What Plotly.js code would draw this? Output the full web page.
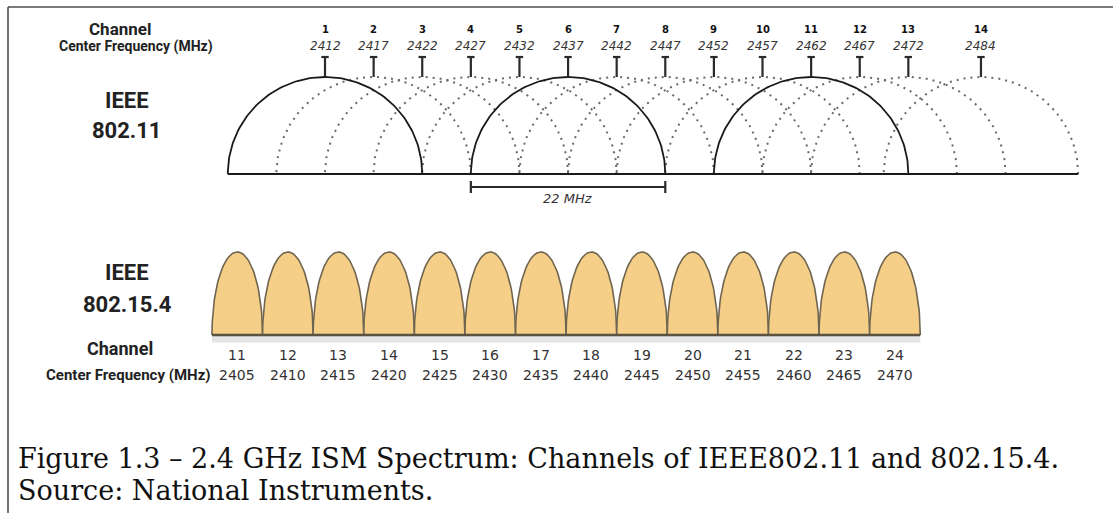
<!DOCTYPE html>
<html><head><meta charset="utf-8">
<script src="https://cdn.plot.ly/plotly-3.0.1.min.js"></script>
<style>html,body{margin:0;padding:0;background:#fff;} #chart{width:1113px;height:513px;}</style>
</head><body><div id="chart"></div>
<script>
// ---------------- data ----------------
const wifiChannels = [1, 2, 3, 4, 5, 6, 7, 8, 9, 10, 11, 12, 13, 14];
const wifiFreqs = [2412, 2417, 2422, 2427, 2432, 2437, 2442, 2447, 2452, 2457, 2462, 2467, 2472, 2484];
const wifiNonOverlapping = [1, 6, 11];
const wifiSpanFrom = 2427;
const wifiSpanTo = 2447;
const wifiSpanLabel = '22 MHz';
const zigbeeChannels = [11, 12, 13, 14, 15, 16, 17, 18, 19, 20, 21, 22, 23, 24];
const zigbeeFreqs = [2405, 2410, 2415, 2420, 2425, 2430, 2435, 2440, 2445, 2450, 2455, 2460, 2465, 2470];
const captionLines = ['Figure 1.3 – 2.4 GHz ISM Spectrum: Channels of IEEE802.11 and 802.15.4.', 'Source: National Instruments.'];

// ---------------- drawing helpers ----------------
const W = 1113, H = 513;
const px = v => v / W;            // page x -> paper
const py = v => 1 - v / H;        // page y -> paper
// channel 14 is drawn closer than scale (broken axis as in the original)
function wifiX(f) { return f <= 2472 ? f : 2472 + (f - 2472) * 0.6225; }
const ARC_HALF = 10;   // MHz, half span of drawn arc
const HUMP_HALF = 2.5; // MHz

function arc(cx, half, n) {
  const xs = [], ys = [];
  for (let i = 0; i <= n; i++) {
    const t = Math.PI * i / n;
    xs.push(cx + half * Math.cos(t));
    ys.push(Math.sin(t));
  }
  return [xs, ys];
}

const traces = [];
// dotted arcs first
wifiChannels.forEach((ch, i) => {
  if (wifiNonOverlapping.includes(ch)) return;
  const [xs, ys] = arc(wifiX(wifiFreqs[i]), ARC_HALF, 90);
  traces.push({type: 'scatter', mode: 'lines', x: xs, y: ys, xaxis: 'x', yaxis: 'y',
    line: {color: '#6a6a6a', width: 2, dash: '2px,5px'}, hoverinfo: 'skip'});
});
wifiChannels.forEach((ch, i) => {
  if (!wifiNonOverlapping.includes(ch)) return;
  const [xs, ys] = arc(wifiX(wifiFreqs[i]), ARC_HALF, 120);
  traces.push({type: 'scatter', mode: 'lines', x: xs, y: ys, xaxis: 'x', yaxis: 'y',
    line: {color: '#1a1a1a', width: 1.8}, hoverinfo: 'skip'});
});
// baseline
traces.push({type: 'scatter', mode: 'lines', xaxis: 'x', yaxis: 'y',
  x: [wifiX(wifiFreqs[0]) - ARC_HALF, wifiX(wifiFreqs[wifiFreqs.length - 1]) + ARC_HALF], y: [0, 0],
  line: {color: '#1a1a1a', width: 2}, hoverinfo: 'skip'});
// T markers
{
  const xs = [], ys = [];
  const top = 1 + 20 / 97;
  wifiFreqs.forEach(f => {
    const x = wifiX(f);
    xs.push(x, x, null, x - 0.38, x + 0.38, null);
    ys.push(1, top, null, top, top, null);
  });
  traces.push({type: 'scatter', mode: 'lines', x: xs, y: ys, xaxis: 'x', yaxis: 'y',
    line: {color: '#2a2a2a', width: 2.2}, hoverinfo: 'skip'});
}
// 22 MHz bar
{
  const yb = -13 / 97, cap = 6 / 97;
  traces.push({type: 'scatter', mode: 'lines', xaxis: 'x', yaxis: 'y',
    x: [wifiSpanFrom, wifiSpanTo, null, wifiSpanFrom, wifiSpanFrom, null, wifiSpanTo, wifiSpanTo],
    y: [yb, yb, null, yb - cap, yb + cap, null, yb - cap, yb + cap],
    line: {color: '#2a2a2a', width: 2.2}, hoverinfo: 'skip'});
}
// 802.15.4 shadow + humps + baseline
traces.push({type: 'scatter', mode: 'lines', xaxis: 'x2', yaxis: 'y2',
  x: [zigbeeFreqs[0] - HUMP_HALF, zigbeeFreqs[zigbeeFreqs.length - 1] + HUMP_HALF], y: [-0.05, -0.05],
  line: {color: 'rgba(0,0,0,0.10)', width: 7}, hoverinfo: 'skip'});
zigbeeFreqs.forEach(f => {
  const [xs, ys] = arc(f, HUMP_HALF, 60);
  traces.push({type: 'scatter', mode: 'lines', x: xs, y: ys, xaxis: 'x2', yaxis: 'y2',
    fill: 'toself', fillcolor: '#F5CF88', line: {color: '#6f6550', width: 1.6}, hoverinfo: 'skip'});
});
traces.push({type: 'scatter', mode: 'lines', xaxis: 'x2', yaxis: 'y2',
  x: [zigbeeFreqs[0] - HUMP_HALF, zigbeeFreqs[zigbeeFreqs.length - 1] + HUMP_HALF], y: [0, 0],
  line: {color: '#5c5242', width: 2.6}, hoverinfo: 'skip'});

// ---------------- annotations ----------------
const ann = [];
const labelFont = 'Liberation Sans Narrow, Roboto, Liberation Sans, sans-serif';
function txt(x, y, text, size, opts) {
  ann.push(Object.assign({xref: 'paper', yref: 'paper', x: px(x), y: py(y), text: text, showarrow: false,
    xanchor: 'center', yanchor: 'middle', font: {family: labelFont, size: size, color: '#222', weight: 700}}, opts || {}));
}
txt(120, 29, 'Channel', 17);
txt(136, 46, 'Center Frequency (MHz)', 14);
txt(127, 100, 'IEEE', 22);
txt(127, 131, '802.11', 22);
txt(127, 272, 'IEEE', 22);
txt(127, 304, '802.15.4', 22);
txt(120, 348, 'Channel', 18);
txt(128, 375, 'Center Frequency (MHz)', 15);

wifiChannels.forEach((ch, i) => {
  ann.push({xref: 'x', yref: 'paper', x: wifiX(wifiFreqs[i]), y: py(29), text: '<b>' + ch + '</b>', showarrow: false,
    xanchor: 'center', yanchor: 'middle', font: {family: 'DejaVu Sans', size: 10, color: '#111'}});
  ann.push({xref: 'x', yref: 'paper', x: wifiX(wifiFreqs[i]), y: py(46), text: '<i>' + wifiFreqs[i] + '</i>', showarrow: false,
    xanchor: 'center', yanchor: 'middle', font: {family: 'DejaVu Sans', size: 12, color: '#333'}});
});
ann.push({xref: 'x', yref: 'paper', x: (wifiSpanFrom + wifiSpanTo) / 2, y: py(199), text: '<i>' + wifiSpanLabel + '</i>', showarrow: false,
  xanchor: 'center', yanchor: 'middle', font: {family: 'DejaVu Sans', size: 13, color: '#333'}});
zigbeeChannels.forEach((ch, i) => {
  ann.push({xref: 'x2', yref: 'paper', x: zigbeeFreqs[i], y: py(355), text: String(ch), showarrow: false,
    xanchor: 'center', yanchor: 'middle', font: {family: 'DejaVu Sans', size: 14, color: '#333'}});
  ann.push({xref: 'x2', yref: 'paper', x: zigbeeFreqs[i], y: py(375), text: String(zigbeeFreqs[i]), showarrow: false,
    xanchor: 'center', yanchor: 'middle', font: {family: 'DejaVu Sans', size: 14, color: '#333'}});
});
captionLines.forEach((line, i) => {
  ann.push({xref: 'paper', yref: 'paper', x: px(17), y: py(458 + i * 32), text: line, showarrow: false, borderpad: 0,
    xanchor: 'left', yanchor: 'middle', font: {family: 'DejaVu Serif', size: 27, color: '#111'}});
});

const layout = {
  width: W, height: H, margin: {l: 0, r: 0, t: 0, b: 0},
  paper_bgcolor: '#fff', plot_bgcolor: '#fff', showlegend: false,
  xaxis: {range: [2378.57, 2493.05], visible: false, fixedrange: true, domain: [0, 1], anchor: 'y'},
  yaxis: {range: [-3.495, 1.794], visible: false, fixedrange: true, domain: [0, 1], anchor: 'x'},
  xaxis2: {range: [2381.55, 2491.55], visible: false, fixedrange: true, overlaying: 'x', anchor: 'y2'},
  yaxis2: {range: [-2.145, 4.036], visible: false, fixedrange: true, overlaying: 'y', anchor: 'x2'},
  annotations: ann,
  shapes: [
    {type: 'line', xref: 'paper', yref: 'paper', x0: px(8), x1: 1, y0: py(7), y1: py(7), line: {color: '#7a7a7a', width: 2}},
    {type: 'line', xref: 'paper', yref: 'paper', x0: px(8), x1: px(8), y0: py(7), y1: 0, line: {color: '#444', width: 1.5}}
  ]
};
Plotly.newPlot('chart', traces, layout, {displayModeBar: false, staticPlot: true});
</script></body></html>
